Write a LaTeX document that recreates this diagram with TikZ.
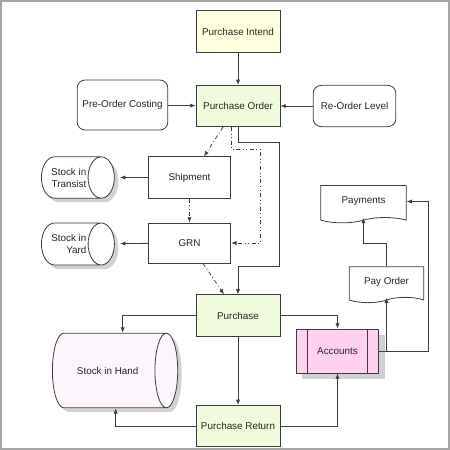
\documentclass[tikz,border=0pt]{standalone}
\usepackage{fontspec}
\setmainfont{Liberation Sans}
\usetikzlibrary{arrows.meta,shapes.geometric,shapes.symbols,shadows,calc}

\definecolor{intendfill}{RGB}{255,255,225}
\definecolor{greenfill}{RGB}{240,250,220}
\definecolor{acctfill}{RGB}{255,208,240}
\definecolor{handfill}{RGB}{252,245,252}
\definecolor{linegray}{RGB}{60,60,60}

\tikzset{
  box/.style={draw=linegray, fill=white, line width=0.6pt, minimum width=63pt,
    minimum height=31pt, inner sep=1pt, text=black!85},
  roundbox/.style={box, rounded corners=6pt},
  stock/.style={cylinder, draw=linegray, fill=white, line width=0.6pt, inner sep=1pt,
    text=black!85, anchor=west,
    drop shadow={shadow xshift=3pt, shadow yshift=-3pt, fill=black!18, opacity=1}},
  doc/.style={tape, tape bend top=none, tape bend bottom=in and out, tape bend height=4pt,
    draw=linegray, fill=white, line width=0.6pt, inner sep=1pt, text=black!85},
  flow/.style={->, draw=linegray, line width=0.6pt},
}

\begin{document}
\begin{tikzpicture}[x=0.75pt, y=-0.75pt, font=\fontsize{7.4}{9}\selectfont,
  >={Latex[length=4pt,width=3.2pt]}]
\useasboundingbox (0,0) rectangle (450,450);
\draw[black!35, line width=1.2pt] (1,1) rectangle (449,449);

\node[box, fill=intendfill] (intend) at (238,31.5) {Purchase Intend};
\node[box, fill=greenfill] (order) at (238,106) {Purchase Order};
\node[roundbox, minimum width=68pt, minimum height=37.5pt] (precost) at (122.5,105) {Pre-Order Costing};
\node[roundbox, minimum width=62pt] (reorder) at (354.5,106) {Re-Order Level};
\node[box, minimum width=62pt] (ship) at (189.5,177.5) {Shipment};
\node[box, minimum width=62pt, minimum height=30pt] (grn) at (189.5,243) {GRN};
\node[stock, align=right, minimum height=54pt, minimum width=31pt, aspect=1.2] (transit) at (41,177.5) {Stock in\\Transist};
\node[stock, align=right, minimum height=54pt, minimum width=31.5pt, aspect=1.2] (yard) at (41,244) {Stock in\\Yard};
\node[doc, minimum width=64pt, minimum height=28pt] (payments) at (363.5,201.5) {Payments};
\node[doc, minimum width=56pt, minimum height=27pt] (payorder) at (386.5,282) {Pay Order};
\node[box, fill=greenfill] (purchase) at (238,315.5) {Purchase};
\node[box, fill=acctfill, minimum width=62pt, minimum height=33pt,
  drop shadow={shadow xshift=4.5pt, shadow yshift=-4.5pt, fill=black!18, opacity=1},
  path picture={\draw[linegray, line width=0.6pt]
    ([xshift=8.25pt]path picture bounding box.north west) -- ([xshift=8.25pt]path picture bounding box.south west)
    ([xshift=-8.25pt]path picture bounding box.north east) -- ([xshift=-8.25pt]path picture bounding box.south east);}]
  (accounts) at (337.5,351) {Accounts};
\node[stock, fill=handfill, minimum height=94pt, minimum width=56pt, aspect=2.3] (hand) at (52,370.5) {Stock in Hand};
\node[box, fill=greenfill] (preturn) at (238,426) {Purchase Return};

\draw[flow] (intend) -- (order);
\draw[flow] (precost) -- (order);
\draw[flow] (reorder) -- (order);
\draw[flow, dash dot] ($(order.south)+(-15,0)$) -- ($(ship.north)+(14.5,0)$);
\draw[flow, dash dot dot] ($(order.south)+(-7,0)$) -- ++(0,22) -| ($(grn.east)+(29,0)$) -- (grn.east);
\draw[flow] (order.south) -- ++(0,15) -| ($(purchase.north)+(41,-28)$) -| (purchase.north);
\draw[flow, shorten >=4pt] (ship) -- (transit);
\draw[flow, dash dot dot] (ship) -- (grn);
\draw[flow, shorten >=4pt] (grn) -- (yard);
\draw[flow, dash dot] ($(grn.south)+(13.5,0)$) -- ($(purchase.north)+(-14,0)$);
\draw[flow] (purchase.west) -| ($(hand.north)+(15,0)$);
\draw[flow] (purchase.east) -| (accounts.north);
\draw[flow] (purchase) -- (preturn);
\draw[flow] (preturn.west) -| ($(hand.south)+(8,0)$);
\draw[flow] (preturn.east) -| (accounts.south);
\draw[flow] (accounts.east) -| (payorder.south);
\draw[flow] (accounts.east) -| ($(payments.east)+(22,0)$) -- (payments.east);
\draw[flow] (payorder.north) -- ++(0,-23) -| (payments.south);
\end{tikzpicture}
\end{document}
